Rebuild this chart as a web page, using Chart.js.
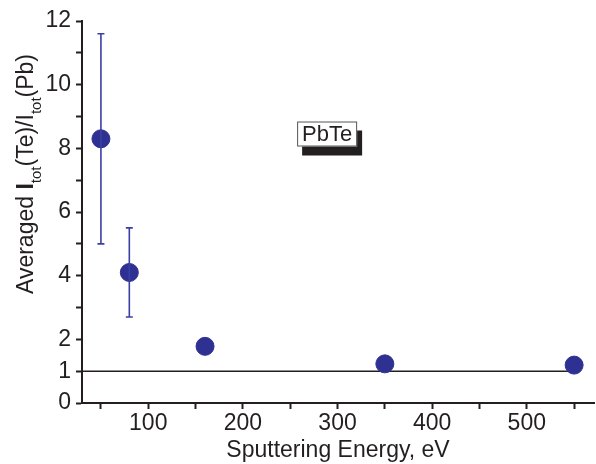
<!DOCTYPE html>
<html>
<head>
<meta charset="utf-8">
<script src="https://cdn.jsdelivr.net/npm/chart.js@4"></script>
<style>
  html, body { margin: 0; padding: 0; background: #fff; }
  #wrap { width: 596px; height: 464px; }
</style>
</head>
<body>
<div id="wrap"><canvas id="chart"></canvas></div>
<script>
'use strict';

/* ── data ── */
const energy = [50, 80, 160, 350, 550];          // sputtering energy, eV
const ratio  = [8.3, 4.1, 1.78, 1.23, 1.19];     // averaged Itot(Te)/Itot(Pb)
const ratioErr = [3.3, 1.4, null, null, null];   // symmetric error bars
const refX = [30, 550];                          // reference line at ratio = 1
const refY = [1, 1];
const xTickVals = [50, 100, 150, 200, 250, 300, 350, 400, 450, 500, 550];
const yTickVals = [0, 1, 2, 3, 4, 5, 6, 7, 8, 9, 10, 11, 12];
const yLabelled = [0, 1, 2, 4, 6, 8, 10, 12];

const FONT = '"Liberation Sans", Arial, Helvetica, sans-serif';
const INK = '#231f20';
const NAVY = '#2e3192';
const BAR_BLUE = '#3a3fa6';

/* error bars drawn through the chart scales */
const errorBars = {
    id: 'errorBars',
    afterDatasetsDraw(chart) {
        const { ctx, scales: { x, y } } = chart;
        ctx.save();
        ctx.strokeStyle = BAR_BLUE;
        ctx.lineWidth = 1.6;
        energy.forEach((e, i) => {
            const err = ratioErr[i];
            if (err == null) return;
            const px = x.getPixelForValue(e);
            const top = y.getPixelForValue(ratio[i] + err);
            const bot = y.getPixelForValue(ratio[i] - err);
            ctx.beginPath();
            ctx.moveTo(px, top); ctx.lineTo(px, bot);
            ctx.moveTo(px - 3.5, top); ctx.lineTo(px + 3.5, top);
            ctx.moveTo(px - 3.5, bot); ctx.lineTo(px + 3.5, bot);
            ctx.stroke();
        });
        ctx.restore();
    },
};

/* "PbTe" label box with drop shadow */
const pbteLabel = {
    id: 'pbteLabel',
    afterDatasetsDraw(chart) {
        const { ctx, scales: { x, y } } = chart;
        const cx = x.getPixelForValue(289);
        const cy = y.getPixelForValue(8.45);
        const w = 60, h = 25;
        ctx.save();
        ctx.fillStyle = INK;
        ctx.fillRect(cx - w / 2 + 5, cy - h / 2 + 9, w, h);
        ctx.fillStyle = '#fff';
        ctx.fillRect(cx - w / 2, cy - h / 2, w, h);
        ctx.strokeStyle = '#555';
        ctx.lineWidth = 1;
        ctx.strokeRect(cx - w / 2 + 0.5, cy - h / 2 + 0.5, w - 1, h - 1);
        ctx.fillStyle = INK;
        ctx.font = '22px ' + FONT;
        ctx.textAlign = 'center';
        ctx.textBaseline = 'middle';
        ctx.fillText('PbTe', cx, cy + 1);
        ctx.restore();
    },
};

/* rotated y title with subscripts */
const yTitle = {
    id: 'yTitle',
    afterDraw(chart) {
        const { ctx } = chart;
        const parts = [
            { t: 'Averaged ', f: '23px ' + FONT, dy: 0 },
            { t: 'I', f: 'bold 23px ' + FONT, dy: 0 },
            { t: 'tot', f: '15px ' + FONT, dy: 8 },
            { t: '(Te)/I', f: '23px ' + FONT, dy: 0 },
            { t: 'tot', f: '15px ' + FONT, dy: 8 },
            { t: '(Pb)', f: '23px ' + FONT, dy: 0 },
        ];
        ctx.save();
        let total = 0;
        parts.forEach(p => { ctx.font = p.f; p.w = ctx.measureText(p.t).width; total += p.w; });
        ctx.translate(33, 174);
        ctx.rotate(-Math.PI / 2);
        ctx.fillStyle = INK;
        ctx.textBaseline = 'alphabetic';
        ctx.textAlign = 'left';
        let pos = -total / 2;
        parts.forEach(p => {
            ctx.font = p.f;
            ctx.fillText(p.t, pos, p.dy);
            pos += p.w;
        });
        ctx.restore();
    },
};

new Chart(document.getElementById('chart'), {
    type: 'scatter',
    data: {
        datasets: [
            {
                label: 'ref',
                type: 'line',
                data: refX.map((v, i) => ({ x: v, y: refY[i] })),
                borderColor: INK,
                borderWidth: 1.5,
                pointRadius: 0,
                order: 2,
            },
            {
                label: 'PbTe',
                data: energy.map((v, i) => ({ x: v, y: ratio[i] })),
                backgroundColor: NAVY,
                borderColor: NAVY,
                pointRadius: 9,
                pointHoverRadius: 9,
                order: 1,
            },
        ],
    },
    options: {
        responsive: true,
        maintainAspectRatio: false,
        animation: false,
        layout: { autoPadding: false, padding: { top: 21, right: 2, left: 0, bottom: 0 } },
        plugins: {
            legend: { display: false },
            tooltip: { enabled: false },
        },
        scales: {
            x: {
                type: 'linear',
                min: 30,
                max: 571,
                afterBuildTicks: s => { s.ticks = xTickVals.map(v => ({ value: v })); },
                afterFit: s => { s.height = 61; },
                grid: { drawOnChartArea: false, drawTicks: true, tickLength: 6, tickWidth: 2, color: INK },
                border: { display: true, color: INK, width: 2 },
                ticks: {
                    color: INK,
                    font: { family: FONT, size: 23 },
                    padding: 1,
                    maxRotation: 0,
                    autoSkip: false,
                    callback: v => (v % 100 === 0 ? String(v) : ''),
                },
                title: {
                    display: true,
                    text: 'Sputtering Energy, eV',
                    color: INK,
                    font: { family: FONT, size: 23 },
                    padding: { top: 0, bottom: 0 },
                },
            },
            y: {
                min: 0,
                max: 12,
                afterBuildTicks: s => { s.ticks = yTickVals.map(v => ({ value: v })); },
                afterFit: s => { s.width = 82; },
                grid: { drawOnChartArea: false, drawTicks: true, tickLength: 6, tickWidth: 2, color: INK },
                border: { display: true, color: INK, width: 2 },
                ticks: {
                    color: INK,
                    font: { family: FONT, size: 23 },
                    padding: 5,
                    autoSkip: false,
                    callback: v => (yLabelled.includes(v) ? String(v) : ''),
                },
            },
        },
    },
    plugins: [errorBars, pbteLabel, yTitle],
});
</script>
</body>
</html>
